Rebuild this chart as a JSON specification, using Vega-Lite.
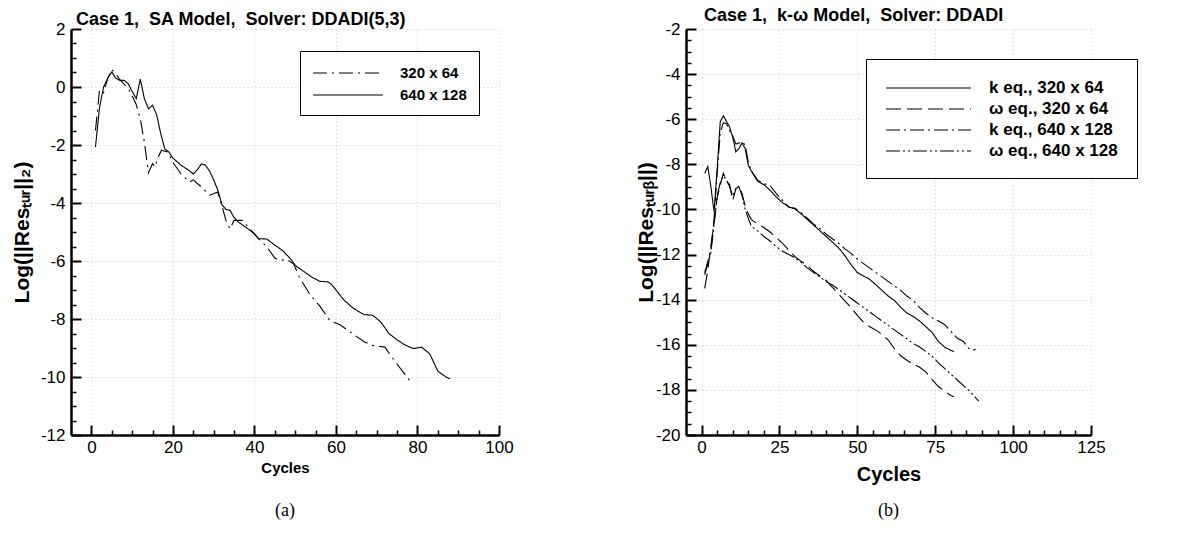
{
  "$schema": "https://vega.github.io/schema/vega-lite/v6.json",
  "padding": {"left": 11, "top": 7, "right": 5, "bottom": 5},
  "bounds": "flush",
  "spacing": 187,
  "background": "white",
  "config": {
    "view": {"stroke": null},
    "font": "Liberation Sans",
    "axis": {
      "domainColor": "black",
      "domainWidth": 2.5,
      "tickColor": "black",
      "labelColor": "black",
      "labelFont": "Liberation Sans",
      "labelFontSize": 17,
      "labelOverlap": false,
      "labelFlush": false,
      "labelBound": false,
      "titleColor": "black",
      "titleFont": "Liberation Sans",
      "titleFontWeight": "bold",
      "grid": true,
      "gridColor": "#c8c8c8",
      "gridDash": [1, 3],
      "gridWidth": 1
    }
  },
  "resolve": {
    "scale": {"x": "independent", "y": "independent", "strokeDash": "independent"},
    "legend": {"strokeDash": "independent"}
  },
  "hconcat": [
    {
      "width": 428,
      "height": 406,
      "title": {"text": "(a)", "orient": "bottom", "font": "Liberation Serif", "fontSize": 18, "fontWeight": "normal", "color": "black", "offset": 27, "anchor": "middle"},
      "layer": [
        {
          "data": {"values": [
            {"cycle": 1, "log_res": -1.5, "grid": "320 x 64"},
            {"cycle": 2, "log_res": -0.1, "grid": "320 x 64"},
            {"cycle": 3, "log_res": -0.2, "grid": "320 x 64"},
            {"cycle": 4, "log_res": 0.3, "grid": "320 x 64"},
            {"cycle": 5, "log_res": 0.6, "grid": "320 x 64"},
            {"cycle": 6, "log_res": 0.45, "grid": "320 x 64"},
            {"cycle": 7, "log_res": 0.25, "grid": "320 x 64"},
            {"cycle": 8, "log_res": 0.1, "grid": "320 x 64"},
            {"cycle": 9, "log_res": -0.05, "grid": "320 x 64"},
            {"cycle": 10, "log_res": -0.3, "grid": "320 x 64"},
            {"cycle": 11, "log_res": -0.6, "grid": "320 x 64"},
            {"cycle": 12, "log_res": -1.1, "grid": "320 x 64"},
            {"cycle": 13, "log_res": -1.9, "grid": "320 x 64"},
            {"cycle": 14, "log_res": -2.96, "grid": "320 x 64"},
            {"cycle": 15, "log_res": -2.64, "grid": "320 x 64"},
            {"cycle": 15.6, "log_res": -2.76, "grid": "320 x 64"},
            {"cycle": 16.4, "log_res": -2.41, "grid": "320 x 64"},
            {"cycle": 17.2, "log_res": -2.18, "grid": "320 x 64"},
            {"cycle": 18.7, "log_res": -2.24, "grid": "320 x 64"},
            {"cycle": 20, "log_res": -2.6, "grid": "320 x 64"},
            {"cycle": 22, "log_res": -3.0, "grid": "320 x 64"},
            {"cycle": 24, "log_res": -3.28, "grid": "320 x 64"},
            {"cycle": 25, "log_res": -3.2, "grid": "320 x 64"},
            {"cycle": 27, "log_res": -3.45, "grid": "320 x 64"},
            {"cycle": 29, "log_res": -3.73, "grid": "320 x 64"},
            {"cycle": 31, "log_res": -3.62, "grid": "320 x 64"},
            {"cycle": 32, "log_res": -4.08, "grid": "320 x 64"},
            {"cycle": 33, "log_res": -4.6, "grid": "320 x 64"},
            {"cycle": 34, "log_res": -4.89, "grid": "320 x 64"},
            {"cycle": 35, "log_res": -4.6, "grid": "320 x 64"},
            {"cycle": 37, "log_res": -4.6, "grid": "320 x 64"},
            {"cycle": 38.5, "log_res": -4.83, "grid": "320 x 64"},
            {"cycle": 41, "log_res": -5.23, "grid": "320 x 64"},
            {"cycle": 43, "log_res": -5.5, "grid": "320 x 64"},
            {"cycle": 45, "log_res": -5.9, "grid": "320 x 64"},
            {"cycle": 46, "log_res": -5.98, "grid": "320 x 64"},
            {"cycle": 48, "log_res": -5.95, "grid": "320 x 64"},
            {"cycle": 49.6, "log_res": -6.1, "grid": "320 x 64"},
            {"cycle": 51, "log_res": -6.55, "grid": "320 x 64"},
            {"cycle": 53.5, "log_res": -7.13, "grid": "320 x 64"},
            {"cycle": 56, "log_res": -7.55, "grid": "320 x 64"},
            {"cycle": 58.5, "log_res": -8.05, "grid": "320 x 64"},
            {"cycle": 61, "log_res": -8.2, "grid": "320 x 64"},
            {"cycle": 64, "log_res": -8.5, "grid": "320 x 64"},
            {"cycle": 67, "log_res": -8.79, "grid": "320 x 64"},
            {"cycle": 69, "log_res": -8.91, "grid": "320 x 64"},
            {"cycle": 72, "log_res": -8.97, "grid": "320 x 64"},
            {"cycle": 74, "log_res": -9.37, "grid": "320 x 64"},
            {"cycle": 76.5, "log_res": -9.83, "grid": "320 x 64"},
            {"cycle": 78, "log_res": -10.11, "grid": "320 x 64"},
            {"cycle": 1, "log_res": -2.07, "grid": "640 x 128"},
            {"cycle": 2, "log_res": -0.7, "grid": "640 x 128"},
            {"cycle": 3, "log_res": 0.0, "grid": "640 x 128"},
            {"cycle": 4, "log_res": 0.3, "grid": "640 x 128"},
            {"cycle": 5, "log_res": 0.52, "grid": "640 x 128"},
            {"cycle": 6, "log_res": 0.3, "grid": "640 x 128"},
            {"cycle": 7, "log_res": 0.23, "grid": "640 x 128"},
            {"cycle": 8, "log_res": 0.23, "grid": "640 x 128"},
            {"cycle": 9, "log_res": 0.12, "grid": "640 x 128"},
            {"cycle": 10, "log_res": -0.15, "grid": "640 x 128"},
            {"cycle": 11, "log_res": -0.4, "grid": "640 x 128"},
            {"cycle": 12, "log_res": 0.27, "grid": "640 x 128"},
            {"cycle": 13, "log_res": -0.4, "grid": "640 x 128"},
            {"cycle": 14, "log_res": -0.75, "grid": "640 x 128"},
            {"cycle": 15, "log_res": -0.63, "grid": "640 x 128"},
            {"cycle": 16, "log_res": -0.95, "grid": "640 x 128"},
            {"cycle": 17, "log_res": -1.6, "grid": "640 x 128"},
            {"cycle": 18, "log_res": -2.13, "grid": "640 x 128"},
            {"cycle": 19, "log_res": -2.24, "grid": "640 x 128"},
            {"cycle": 20, "log_res": -2.45, "grid": "640 x 128"},
            {"cycle": 22, "log_res": -2.7, "grid": "640 x 128"},
            {"cycle": 24, "log_res": -2.88, "grid": "640 x 128"},
            {"cycle": 25, "log_res": -3.0, "grid": "640 x 128"},
            {"cycle": 26, "log_res": -2.85, "grid": "640 x 128"},
            {"cycle": 27, "log_res": -2.65, "grid": "640 x 128"},
            {"cycle": 28, "log_res": -2.7, "grid": "640 x 128"},
            {"cycle": 29, "log_res": -2.9, "grid": "640 x 128"},
            {"cycle": 30, "log_res": -3.2, "grid": "640 x 128"},
            {"cycle": 31, "log_res": -3.55, "grid": "640 x 128"},
            {"cycle": 32, "log_res": -4.05, "grid": "640 x 128"},
            {"cycle": 33, "log_res": -4.22, "grid": "640 x 128"},
            {"cycle": 34, "log_res": -4.25, "grid": "640 x 128"},
            {"cycle": 35, "log_res": -4.5, "grid": "640 x 128"},
            {"cycle": 36, "log_res": -4.65, "grid": "640 x 128"},
            {"cycle": 38, "log_res": -4.85, "grid": "640 x 128"},
            {"cycle": 40, "log_res": -5.06, "grid": "640 x 128"},
            {"cycle": 41, "log_res": -5.23, "grid": "640 x 128"},
            {"cycle": 43, "log_res": -5.24, "grid": "640 x 128"},
            {"cycle": 45, "log_res": -5.45, "grid": "640 x 128"},
            {"cycle": 47, "log_res": -5.65, "grid": "640 x 128"},
            {"cycle": 49, "log_res": -5.95, "grid": "640 x 128"},
            {"cycle": 50, "log_res": -6.15, "grid": "640 x 128"},
            {"cycle": 52, "log_res": -6.35, "grid": "640 x 128"},
            {"cycle": 54, "log_res": -6.55, "grid": "640 x 128"},
            {"cycle": 56, "log_res": -6.7, "grid": "640 x 128"},
            {"cycle": 58, "log_res": -6.72, "grid": "640 x 128"},
            {"cycle": 59, "log_res": -6.82, "grid": "640 x 128"},
            {"cycle": 60, "log_res": -7.0, "grid": "640 x 128"},
            {"cycle": 62, "log_res": -7.35, "grid": "640 x 128"},
            {"cycle": 64, "log_res": -7.6, "grid": "640 x 128"},
            {"cycle": 66, "log_res": -7.78, "grid": "640 x 128"},
            {"cycle": 67, "log_res": -7.85, "grid": "640 x 128"},
            {"cycle": 69, "log_res": -7.87, "grid": "640 x 128"},
            {"cycle": 71, "log_res": -8.1, "grid": "640 x 128"},
            {"cycle": 73, "log_res": -8.5, "grid": "640 x 128"},
            {"cycle": 75, "log_res": -8.72, "grid": "640 x 128"},
            {"cycle": 77, "log_res": -8.9, "grid": "640 x 128"},
            {"cycle": 79, "log_res": -9.02, "grid": "640 x 128"},
            {"cycle": 81, "log_res": -8.97, "grid": "640 x 128"},
            {"cycle": 83, "log_res": -9.2, "grid": "640 x 128"},
            {"cycle": 85, "log_res": -9.8, "grid": "640 x 128"},
            {"cycle": 87, "log_res": -10.0, "grid": "640 x 128"},
            {"cycle": 88, "log_res": -10.06, "grid": "640 x 128"}
          ]},
          "mark": {"type": "line", "color": "black", "strokeWidth": 1.1},
          "encoding": {
            "x": {
              "field": "cycle", "type": "quantitative",
              "scale": {"domain": [-5, 100], "nice": false, "zero": false},
              "axis": {
                "title": "Cycles", "titleFontSize": 15, "titlePadding": 0,
                "values": [0, 5, 10, 15, 20, 25, 30, 35, 40, 45, 50, 55, 60, 65, 70, 75, 80, 85, 90, 95, 100],
                "labelExpr": "datum.value % 20 === 0 ? '' + datum.value : ''",
                "labelPadding": 14,
                "tickSize": {"condition": {"test": "datum.value % 20 === 0", "value": -10}, "value": -5},
                "tickWidth": {"condition": {"test": "datum.value % 20 === 0", "value": 2}, "value": 1.5},
                "gridOpacity": {"condition": {"test": "datum.value % 20 === 0", "value": 1}, "value": 0}
              }
            },
            "y": {
              "field": "log_res", "type": "quantitative",
              "scale": {"domain": [-12, 2], "nice": false, "zero": false},
              "axis": {
                "title": "Log(||Resₜᵤᵣ||₂)", "titleFontSize": 21, "titlePadding": 8,
                "values": [-12, -11.5, -11, -10.5, -10, -9.5, -9, -8.5, -8, -7.5, -7, -6.5, -6, -5.5, -5, -4.5, -4, -3.5, -3, -2.5, -2, -1.5, -1, -0.5, 0, 0.5, 1, 1.5, 2],
                "labelExpr": "datum.value % 2 === 0 ? '' + datum.value : ''",
                "labelPadding": 16,
                "tickSize": {"condition": {"test": "datum.value % 2 === 0", "value": -10}, "value": -5},
                "tickWidth": {"condition": {"test": "datum.value % 2 === 0", "value": 2}, "value": 1.5},
                "gridOpacity": {"condition": {"test": "datum.value % 2 === 0", "value": 1}, "value": 0}
              }
            },
            "strokeDash": {
              "field": "grid", "type": "nominal",
              "scale": {"domain": ["320 x 64", "640 x 128"], "range": [[14, 5, 2, 5], [1, 0]]},
              "legend": {
                "orient": "none", "legendX": 229, "legendY": 22, "direction": "vertical", "title": null,
                "symbolType": "M-1,0H6.78", "symbolSize": 324, "symbolStrokeWidth": 1.1, "symbolStrokeColor": "black",
                "labelFont": "Liberation Sans", "labelFontSize": 15, "labelFontWeight": "bold", "labelColor": "black",
                "labelOffset": 68, "strokeColor": "black", "fillColor": "white", "padding": 12, "rowPadding": 4
              }
            }
          }
        },
        {
          "data": {"values": [{"label": "Case 1,\u00a0 SA Model,\u00a0 Solver: DDADI(5,3)"}]},
          "mark": {"type": "text", "align": "left", "baseline": "alphabetic", "dx": 5, "dy": -4, "font": "Liberation Sans", "fontWeight": "bold", "fontSize": 18, "color": "black"},
          "encoding": {
            "x": {
              "datum": -5, "type": "quantitative",
              "axis": {
                "title": "Cycles", "titleFontSize": 15, "titlePadding": 0,
                "values": [0, 5, 10, 15, 20, 25, 30, 35, 40, 45, 50, 55, 60, 65, 70, 75, 80, 85, 90, 95, 100],
                "labelExpr": "datum.value % 20 === 0 ? '' + datum.value : ''",
                "labelPadding": 14,
                "tickSize": {"condition": {"test": "datum.value % 20 === 0", "value": -10}, "value": -5},
                "tickWidth": {"condition": {"test": "datum.value % 20 === 0", "value": 2}, "value": 1.5},
                "gridOpacity": {"condition": {"test": "datum.value % 20 === 0", "value": 1}, "value": 0}
              }
            },
            "y": {
              "datum": 2, "type": "quantitative",
              "axis": {
                "title": "Log(||Resₜᵤᵣ||₂)", "titleFontSize": 21, "titlePadding": 8,
                "values": [-12, -11.5, -11, -10.5, -10, -9.5, -9, -8.5, -8, -7.5, -7, -6.5, -6, -5.5, -5, -4.5, -4, -3.5, -3, -2.5, -2, -1.5, -1, -0.5, 0, 0.5, 1, 1.5, 2],
                "labelExpr": "datum.value % 2 === 0 ? '' + datum.value : ''",
                "labelPadding": 16,
                "tickSize": {"condition": {"test": "datum.value % 2 === 0", "value": -10}, "value": -5},
                "tickWidth": {"condition": {"test": "datum.value % 2 === 0", "value": 2}, "value": 1.5},
                "gridOpacity": {"condition": {"test": "datum.value % 2 === 0", "value": 1}, "value": 0}
              }
            },
            "text": {"field": "label"}
          }
        }
      ]
    },
    {
      "width": 405,
      "height": 406,
      "title": {"text": "(b)", "orient": "bottom", "font": "Liberation Serif", "fontSize": 18, "fontWeight": "normal", "color": "black", "offset": 18, "anchor": "middle"},
      "layer": [
        {
          "data": {"values": [
            {"iter": 1, "res_turb": -8.4, "series": "k eq., 320 x 64"},
            {"iter": 2, "res_turb": -8.1, "series": "k eq., 320 x 64"},
            {"iter": 3, "res_turb": -9.0, "series": "k eq., 320 x 64"},
            {"iter": 4, "res_turb": -10.1, "series": "k eq., 320 x 64"},
            {"iter": 5, "res_turb": -8.2, "series": "k eq., 320 x 64"},
            {"iter": 6, "res_turb": -6.1, "series": "k eq., 320 x 64"},
            {"iter": 7, "res_turb": -5.85, "series": "k eq., 320 x 64"},
            {"iter": 8, "res_turb": -6.1, "series": "k eq., 320 x 64"},
            {"iter": 9, "res_turb": -6.35, "series": "k eq., 320 x 64"},
            {"iter": 10, "res_turb": -6.8, "series": "k eq., 320 x 64"},
            {"iter": 11, "res_turb": -7.45, "series": "k eq., 320 x 64"},
            {"iter": 12, "res_turb": -7.3, "series": "k eq., 320 x 64"},
            {"iter": 13, "res_turb": -7.05, "series": "k eq., 320 x 64"},
            {"iter": 14, "res_turb": -7.3, "series": "k eq., 320 x 64"},
            {"iter": 15, "res_turb": -8.05, "series": "k eq., 320 x 64"},
            {"iter": 16, "res_turb": -8.3, "series": "k eq., 320 x 64"},
            {"iter": 18, "res_turb": -8.75, "series": "k eq., 320 x 64"},
            {"iter": 20, "res_turb": -8.9, "series": "k eq., 320 x 64"},
            {"iter": 22, "res_turb": -9.15, "series": "k eq., 320 x 64"},
            {"iter": 24, "res_turb": -9.45, "series": "k eq., 320 x 64"},
            {"iter": 26, "res_turb": -9.7, "series": "k eq., 320 x 64"},
            {"iter": 28, "res_turb": -9.88, "series": "k eq., 320 x 64"},
            {"iter": 30, "res_turb": -9.98, "series": "k eq., 320 x 64"},
            {"iter": 32, "res_turb": -10.2, "series": "k eq., 320 x 64"},
            {"iter": 34, "res_turb": -10.45, "series": "k eq., 320 x 64"},
            {"iter": 36, "res_turb": -10.7, "series": "k eq., 320 x 64"},
            {"iter": 38, "res_turb": -10.95, "series": "k eq., 320 x 64"},
            {"iter": 40, "res_turb": -11.2, "series": "k eq., 320 x 64"},
            {"iter": 42, "res_turb": -11.45, "series": "k eq., 320 x 64"},
            {"iter": 44, "res_turb": -11.7, "series": "k eq., 320 x 64"},
            {"iter": 46, "res_turb": -12.05, "series": "k eq., 320 x 64"},
            {"iter": 48, "res_turb": -12.45, "series": "k eq., 320 x 64"},
            {"iter": 50, "res_turb": -12.8, "series": "k eq., 320 x 64"},
            {"iter": 52, "res_turb": -12.95, "series": "k eq., 320 x 64"},
            {"iter": 54, "res_turb": -13.1, "series": "k eq., 320 x 64"},
            {"iter": 56, "res_turb": -13.35, "series": "k eq., 320 x 64"},
            {"iter": 58, "res_turb": -13.6, "series": "k eq., 320 x 64"},
            {"iter": 60, "res_turb": -13.85, "series": "k eq., 320 x 64"},
            {"iter": 62, "res_turb": -14.05, "series": "k eq., 320 x 64"},
            {"iter": 64, "res_turb": -14.35, "series": "k eq., 320 x 64"},
            {"iter": 66, "res_turb": -14.6, "series": "k eq., 320 x 64"},
            {"iter": 68, "res_turb": -14.75, "series": "k eq., 320 x 64"},
            {"iter": 70, "res_turb": -14.95, "series": "k eq., 320 x 64"},
            {"iter": 72, "res_turb": -15.2, "series": "k eq., 320 x 64"},
            {"iter": 74, "res_turb": -15.45, "series": "k eq., 320 x 64"},
            {"iter": 76, "res_turb": -15.85, "series": "k eq., 320 x 64"},
            {"iter": 78, "res_turb": -16.1, "series": "k eq., 320 x 64"},
            {"iter": 80, "res_turb": -16.25, "series": "k eq., 320 x 64"},
            {"iter": 81, "res_turb": -16.3, "series": "k eq., 320 x 64"},
            {"iter": 1, "res_turb": -13.5, "series": "ω eq., 320 x 64"},
            {"iter": 2, "res_turb": -12.7, "series": "ω eq., 320 x 64"},
            {"iter": 3, "res_turb": -11.6, "series": "ω eq., 320 x 64"},
            {"iter": 4, "res_turb": -10.6, "series": "ω eq., 320 x 64"},
            {"iter": 5, "res_turb": -9.5, "series": "ω eq., 320 x 64"},
            {"iter": 6, "res_turb": -8.9, "series": "ω eq., 320 x 64"},
            {"iter": 7, "res_turb": -8.4, "series": "ω eq., 320 x 64"},
            {"iter": 8, "res_turb": -8.75, "series": "ω eq., 320 x 64"},
            {"iter": 9, "res_turb": -8.9, "series": "ω eq., 320 x 64"},
            {"iter": 10, "res_turb": -9.6, "series": "ω eq., 320 x 64"},
            {"iter": 11, "res_turb": -9.1, "series": "ω eq., 320 x 64"},
            {"iter": 12, "res_turb": -8.95, "series": "ω eq., 320 x 64"},
            {"iter": 13, "res_turb": -9.3, "series": "ω eq., 320 x 64"},
            {"iter": 14, "res_turb": -9.85, "series": "ω eq., 320 x 64"},
            {"iter": 15, "res_turb": -10.2, "series": "ω eq., 320 x 64"},
            {"iter": 16, "res_turb": -10.45, "series": "ω eq., 320 x 64"},
            {"iter": 18, "res_turb": -10.65, "series": "ω eq., 320 x 64"},
            {"iter": 20, "res_turb": -10.8, "series": "ω eq., 320 x 64"},
            {"iter": 22, "res_turb": -11.0, "series": "ω eq., 320 x 64"},
            {"iter": 24, "res_turb": -11.25, "series": "ω eq., 320 x 64"},
            {"iter": 26, "res_turb": -11.5, "series": "ω eq., 320 x 64"},
            {"iter": 28, "res_turb": -11.8, "series": "ω eq., 320 x 64"},
            {"iter": 30, "res_turb": -12.1, "series": "ω eq., 320 x 64"},
            {"iter": 32, "res_turb": -12.3, "series": "ω eq., 320 x 64"},
            {"iter": 34, "res_turb": -12.5, "series": "ω eq., 320 x 64"},
            {"iter": 36, "res_turb": -12.75, "series": "ω eq., 320 x 64"},
            {"iter": 38, "res_turb": -12.95, "series": "ω eq., 320 x 64"},
            {"iter": 40, "res_turb": -13.15, "series": "ω eq., 320 x 64"},
            {"iter": 42, "res_turb": -13.45, "series": "ω eq., 320 x 64"},
            {"iter": 44, "res_turb": -13.75, "series": "ω eq., 320 x 64"},
            {"iter": 46, "res_turb": -14.05, "series": "ω eq., 320 x 64"},
            {"iter": 48, "res_turb": -14.35, "series": "ω eq., 320 x 64"},
            {"iter": 50, "res_turb": -14.7, "series": "ω eq., 320 x 64"},
            {"iter": 52, "res_turb": -15.0, "series": "ω eq., 320 x 64"},
            {"iter": 54, "res_turb": -15.2, "series": "ω eq., 320 x 64"},
            {"iter": 56, "res_turb": -15.35, "series": "ω eq., 320 x 64"},
            {"iter": 58, "res_turb": -15.55, "series": "ω eq., 320 x 64"},
            {"iter": 60, "res_turb": -15.8, "series": "ω eq., 320 x 64"},
            {"iter": 62, "res_turb": -16.2, "series": "ω eq., 320 x 64"},
            {"iter": 64, "res_turb": -16.5, "series": "ω eq., 320 x 64"},
            {"iter": 66, "res_turb": -16.7, "series": "ω eq., 320 x 64"},
            {"iter": 68, "res_turb": -16.85, "series": "ω eq., 320 x 64"},
            {"iter": 70, "res_turb": -17.0, "series": "ω eq., 320 x 64"},
            {"iter": 72, "res_turb": -17.2, "series": "ω eq., 320 x 64"},
            {"iter": 74, "res_turb": -17.55, "series": "ω eq., 320 x 64"},
            {"iter": 76, "res_turb": -17.85, "series": "ω eq., 320 x 64"},
            {"iter": 78, "res_turb": -18.05, "series": "ω eq., 320 x 64"},
            {"iter": 80, "res_turb": -18.25, "series": "ω eq., 320 x 64"},
            {"iter": 81, "res_turb": -18.3, "series": "ω eq., 320 x 64"},
            {"iter": 1, "res_turb": -12.8, "series": "k eq., 640 x 128"},
            {"iter": 2, "res_turb": -12.3, "series": "k eq., 640 x 128"},
            {"iter": 3, "res_turb": -11.8, "series": "k eq., 640 x 128"},
            {"iter": 4, "res_turb": -10.4, "series": "k eq., 640 x 128"},
            {"iter": 5, "res_turb": -8.4, "series": "k eq., 640 x 128"},
            {"iter": 6, "res_turb": -6.6, "series": "k eq., 640 x 128"},
            {"iter": 7, "res_turb": -6.15, "series": "k eq., 640 x 128"},
            {"iter": 8, "res_turb": -6.2, "series": "k eq., 640 x 128"},
            {"iter": 9, "res_turb": -6.5, "series": "k eq., 640 x 128"},
            {"iter": 10, "res_turb": -6.75, "series": "k eq., 640 x 128"},
            {"iter": 11, "res_turb": -7.1, "series": "k eq., 640 x 128"},
            {"iter": 12, "res_turb": -7.05, "series": "k eq., 640 x 128"},
            {"iter": 13, "res_turb": -7.0, "series": "k eq., 640 x 128"},
            {"iter": 14, "res_turb": -7.15, "series": "k eq., 640 x 128"},
            {"iter": 15, "res_turb": -7.9, "series": "k eq., 640 x 128"},
            {"iter": 16, "res_turb": -8.3, "series": "k eq., 640 x 128"},
            {"iter": 18, "res_turb": -8.7, "series": "k eq., 640 x 128"},
            {"iter": 20, "res_turb": -8.85, "series": "k eq., 640 x 128"},
            {"iter": 22, "res_turb": -8.95, "series": "k eq., 640 x 128"},
            {"iter": 24, "res_turb": -9.3, "series": "k eq., 640 x 128"},
            {"iter": 26, "res_turb": -9.6, "series": "k eq., 640 x 128"},
            {"iter": 28, "res_turb": -9.9, "series": "k eq., 640 x 128"},
            {"iter": 30, "res_turb": -9.95, "series": "k eq., 640 x 128"},
            {"iter": 32, "res_turb": -10.15, "series": "k eq., 640 x 128"},
            {"iter": 34, "res_turb": -10.4, "series": "k eq., 640 x 128"},
            {"iter": 36, "res_turb": -10.65, "series": "k eq., 640 x 128"},
            {"iter": 38, "res_turb": -10.85, "series": "k eq., 640 x 128"},
            {"iter": 40, "res_turb": -11.1, "series": "k eq., 640 x 128"},
            {"iter": 42, "res_turb": -11.3, "series": "k eq., 640 x 128"},
            {"iter": 44, "res_turb": -11.5, "series": "k eq., 640 x 128"},
            {"iter": 46, "res_turb": -11.75, "series": "k eq., 640 x 128"},
            {"iter": 48, "res_turb": -11.95, "series": "k eq., 640 x 128"},
            {"iter": 50, "res_turb": -12.2, "series": "k eq., 640 x 128"},
            {"iter": 52, "res_turb": -12.4, "series": "k eq., 640 x 128"},
            {"iter": 54, "res_turb": -12.6, "series": "k eq., 640 x 128"},
            {"iter": 56, "res_turb": -12.8, "series": "k eq., 640 x 128"},
            {"iter": 58, "res_turb": -13.0, "series": "k eq., 640 x 128"},
            {"iter": 60, "res_turb": -13.2, "series": "k eq., 640 x 128"},
            {"iter": 62, "res_turb": -13.4, "series": "k eq., 640 x 128"},
            {"iter": 64, "res_turb": -13.6, "series": "k eq., 640 x 128"},
            {"iter": 66, "res_turb": -13.85, "series": "k eq., 640 x 128"},
            {"iter": 68, "res_turb": -14.05, "series": "k eq., 640 x 128"},
            {"iter": 70, "res_turb": -14.35, "series": "k eq., 640 x 128"},
            {"iter": 72, "res_turb": -14.6, "series": "k eq., 640 x 128"},
            {"iter": 74, "res_turb": -14.8, "series": "k eq., 640 x 128"},
            {"iter": 76, "res_turb": -14.95, "series": "k eq., 640 x 128"},
            {"iter": 78, "res_turb": -15.1, "series": "k eq., 640 x 128"},
            {"iter": 80, "res_turb": -15.4, "series": "k eq., 640 x 128"},
            {"iter": 82, "res_turb": -15.7, "series": "k eq., 640 x 128"},
            {"iter": 84, "res_turb": -15.85, "series": "k eq., 640 x 128"},
            {"iter": 86, "res_turb": -16.2, "series": "k eq., 640 x 128"},
            {"iter": 87, "res_turb": -16.25, "series": "k eq., 640 x 128"},
            {"iter": 88, "res_turb": -16.2, "series": "k eq., 640 x 128"},
            {"iter": 1, "res_turb": -12.9, "series": "ω eq., 640 x 128"},
            {"iter": 2, "res_turb": -12.4, "series": "ω eq., 640 x 128"},
            {"iter": 3, "res_turb": -11.9, "series": "ω eq., 640 x 128"},
            {"iter": 4, "res_turb": -10.7, "series": "ω eq., 640 x 128"},
            {"iter": 5, "res_turb": -9.4, "series": "ω eq., 640 x 128"},
            {"iter": 6, "res_turb": -8.8, "series": "ω eq., 640 x 128"},
            {"iter": 7, "res_turb": -8.5, "series": "ω eq., 640 x 128"},
            {"iter": 8, "res_turb": -8.7, "series": "ω eq., 640 x 128"},
            {"iter": 9, "res_turb": -9.0, "series": "ω eq., 640 x 128"},
            {"iter": 10, "res_turb": -9.4, "series": "ω eq., 640 x 128"},
            {"iter": 11, "res_turb": -9.05, "series": "ω eq., 640 x 128"},
            {"iter": 12, "res_turb": -9.0, "series": "ω eq., 640 x 128"},
            {"iter": 13, "res_turb": -9.4, "series": "ω eq., 640 x 128"},
            {"iter": 14, "res_turb": -10.0, "series": "ω eq., 640 x 128"},
            {"iter": 15, "res_turb": -10.4, "series": "ω eq., 640 x 128"},
            {"iter": 16, "res_turb": -10.75, "series": "ω eq., 640 x 128"},
            {"iter": 18, "res_turb": -10.95, "series": "ω eq., 640 x 128"},
            {"iter": 20, "res_turb": -11.2, "series": "ω eq., 640 x 128"},
            {"iter": 22, "res_turb": -11.4, "series": "ω eq., 640 x 128"},
            {"iter": 24, "res_turb": -11.65, "series": "ω eq., 640 x 128"},
            {"iter": 26, "res_turb": -11.85, "series": "ω eq., 640 x 128"},
            {"iter": 28, "res_turb": -12.0, "series": "ω eq., 640 x 128"},
            {"iter": 30, "res_turb": -12.15, "series": "ω eq., 640 x 128"},
            {"iter": 32, "res_turb": -12.35, "series": "ω eq., 640 x 128"},
            {"iter": 34, "res_turb": -12.6, "series": "ω eq., 640 x 128"},
            {"iter": 36, "res_turb": -12.8, "series": "ω eq., 640 x 128"},
            {"iter": 38, "res_turb": -13.0, "series": "ω eq., 640 x 128"},
            {"iter": 40, "res_turb": -13.2, "series": "ω eq., 640 x 128"},
            {"iter": 42, "res_turb": -13.35, "series": "ω eq., 640 x 128"},
            {"iter": 44, "res_turb": -13.55, "series": "ω eq., 640 x 128"},
            {"iter": 46, "res_turb": -13.75, "series": "ω eq., 640 x 128"},
            {"iter": 48, "res_turb": -13.95, "series": "ω eq., 640 x 128"},
            {"iter": 50, "res_turb": -14.15, "series": "ω eq., 640 x 128"},
            {"iter": 52, "res_turb": -14.35, "series": "ω eq., 640 x 128"},
            {"iter": 54, "res_turb": -14.55, "series": "ω eq., 640 x 128"},
            {"iter": 56, "res_turb": -14.75, "series": "ω eq., 640 x 128"},
            {"iter": 58, "res_turb": -14.95, "series": "ω eq., 640 x 128"},
            {"iter": 60, "res_turb": -15.15, "series": "ω eq., 640 x 128"},
            {"iter": 62, "res_turb": -15.35, "series": "ω eq., 640 x 128"},
            {"iter": 64, "res_turb": -15.55, "series": "ω eq., 640 x 128"},
            {"iter": 66, "res_turb": -15.75, "series": "ω eq., 640 x 128"},
            {"iter": 68, "res_turb": -15.95, "series": "ω eq., 640 x 128"},
            {"iter": 70, "res_turb": -16.1, "series": "ω eq., 640 x 128"},
            {"iter": 72, "res_turb": -16.3, "series": "ω eq., 640 x 128"},
            {"iter": 74, "res_turb": -16.5, "series": "ω eq., 640 x 128"},
            {"iter": 76, "res_turb": -16.8, "series": "ω eq., 640 x 128"},
            {"iter": 78, "res_turb": -17.05, "series": "ω eq., 640 x 128"},
            {"iter": 80, "res_turb": -17.3, "series": "ω eq., 640 x 128"},
            {"iter": 82, "res_turb": -17.55, "series": "ω eq., 640 x 128"},
            {"iter": 84, "res_turb": -17.8, "series": "ω eq., 640 x 128"},
            {"iter": 86, "res_turb": -18.05, "series": "ω eq., 640 x 128"},
            {"iter": 88, "res_turb": -18.35, "series": "ω eq., 640 x 128"},
            {"iter": 89, "res_turb": -18.5, "series": "ω eq., 640 x 128"}
          ]},
          "mark": {"type": "line", "color": "black", "strokeWidth": 1.1},
          "encoding": {
            "x": {
              "field": "iter", "type": "quantitative",
              "scale": {"domain": [-5, 125], "nice": false, "zero": false},
              "axis": {
                "title": "Cycles", "titleFontSize": 20, "titlePadding": 4,
                "values": [0, 5, 10, 15, 20, 25, 30, 35, 40, 45, 50, 55, 60, 65, 70, 75, 80, 85, 90, 95, 100, 105, 110, 115, 120, 125],
                "labelExpr": "datum.value % 25 === 0 ? '' + datum.value : ''",
                "labelPadding": 14,
                "tickSize": {"condition": {"test": "datum.value % 25 === 0", "value": -10}, "value": -5},
                "tickWidth": {"condition": {"test": "datum.value % 25 === 0", "value": 2}, "value": 1.5},
                "gridOpacity": {"condition": {"test": "datum.value % 25 === 0", "value": 1}, "value": 0}
              }
            },
            "y": {
              "field": "res_turb", "type": "quantitative",
              "scale": {"domain": [-20, -2], "nice": false, "zero": false},
              "axis": {
                "title": "Log(||Resₜᵤᵣᵦ||)", "titleFontSize": 21, "titlePadding": -1,
                "values": [-20, -19.5, -19, -18.5, -18, -17.5, -17, -16.5, -16, -15.5, -15, -14.5, -14, -13.5, -13, -12.5, -12, -11.5, -11, -10.5, -10, -9.5, -9, -8.5, -8, -7.5, -7, -6.5, -6, -5.5, -5, -4.5, -4, -3.5, -3, -2.5, -2],
                "labelExpr": "datum.value % 2 === 0 ? '' + datum.value : ''",
                "labelPadding": 16,
                "tickSize": {"condition": {"test": "datum.value % 2 === 0", "value": -10}, "value": -5},
                "tickWidth": {"condition": {"test": "datum.value % 2 === 0", "value": 2}, "value": 1.5},
                "gridOpacity": {"condition": {"test": "datum.value % 2 === 0", "value": 1}, "value": 0}
              }
            },
            "strokeDash": {
              "field": "series", "type": "nominal",
              "scale": {"domain": ["k eq., 320 x 64", "ω eq., 320 x 64", "k eq., 640 x 128", "ω eq., 640 x 128"], "range": [[1, 0], [15, 6], [14, 4, 2, 4], [14, 3, 2, 3, 2, 3]]},
              "legend": {
                "orient": "none", "legendX": 180, "legendY": 30, "direction": "vertical", "title": null,
                "symbolType": "M-1,0H8.44", "symbolSize": 324, "symbolStrokeWidth": 1.1, "symbolStrokeColor": "black",
                "labelFont": "Liberation Sans", "labelFontSize": 17, "labelFontWeight": "bold", "labelColor": "black",
                "labelOffset": 84, "strokeColor": "black", "fillColor": "white", "padding": 19, "rowPadding": 3
              }
            }
          }
        },
        {
          "data": {"values": [{"label": "Case 1,\u00a0 k-ω Model,\u00a0 Solver: DDADI"}]},
          "mark": {"type": "text", "align": "left", "baseline": "alphabetic", "dx": 18, "dy": -8, "font": "Liberation Sans", "fontWeight": "bold", "fontSize": 18, "color": "black"},
          "encoding": {
            "x": {
              "datum": -5, "type": "quantitative",
              "axis": {
                "title": "Cycles", "titleFontSize": 20, "titlePadding": 4,
                "values": [0, 5, 10, 15, 20, 25, 30, 35, 40, 45, 50, 55, 60, 65, 70, 75, 80, 85, 90, 95, 100, 105, 110, 115, 120, 125],
                "labelExpr": "datum.value % 25 === 0 ? '' + datum.value : ''",
                "labelPadding": 14,
                "tickSize": {"condition": {"test": "datum.value % 25 === 0", "value": -10}, "value": -5},
                "tickWidth": {"condition": {"test": "datum.value % 25 === 0", "value": 2}, "value": 1.5},
                "gridOpacity": {"condition": {"test": "datum.value % 25 === 0", "value": 1}, "value": 0}
              }
            },
            "y": {
              "datum": -2, "type": "quantitative",
              "axis": {
                "title": "Log(||Resₜᵤᵣᵦ||)", "titleFontSize": 21, "titlePadding": -1,
                "values": [-20, -19.5, -19, -18.5, -18, -17.5, -17, -16.5, -16, -15.5, -15, -14.5, -14, -13.5, -13, -12.5, -12, -11.5, -11, -10.5, -10, -9.5, -9, -8.5, -8, -7.5, -7, -6.5, -6, -5.5, -5, -4.5, -4, -3.5, -3, -2.5, -2],
                "labelExpr": "datum.value % 2 === 0 ? '' + datum.value : ''",
                "labelPadding": 16,
                "tickSize": {"condition": {"test": "datum.value % 2 === 0", "value": -10}, "value": -5},
                "tickWidth": {"condition": {"test": "datum.value % 2 === 0", "value": 2}, "value": 1.5},
                "gridOpacity": {"condition": {"test": "datum.value % 2 === 0", "value": 1}, "value": 0}
              }
            },
            "text": {"field": "label"}
          }
        }
      ]
    }
  ]
}
